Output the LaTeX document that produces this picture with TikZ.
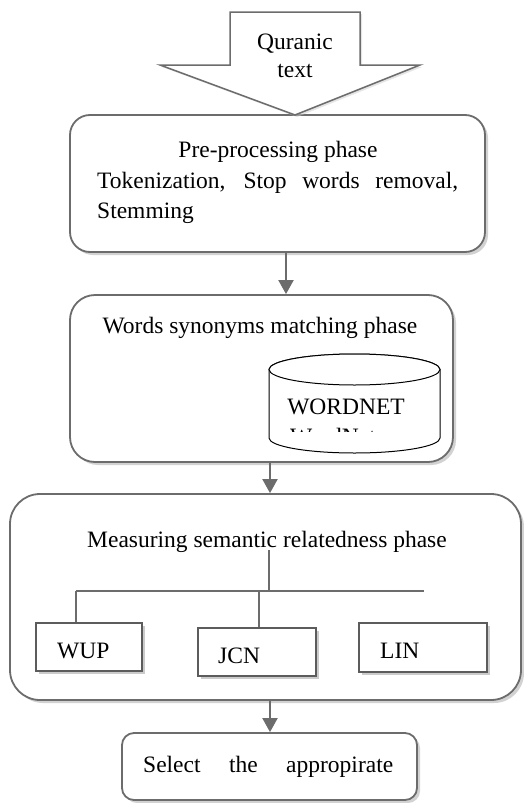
\documentclass[tikz,border=0pt]{standalone}
\usepackage{fontspec}
\setmainfont{Liberation Serif}
\usetikzlibrary{shadows,arrows.meta}
\definecolor{bgray}{RGB}{108,108,108}
\begin{document}
\begin{tikzpicture}[x=1pt,y=-1pt,
  txt/.style={font=\fontsize{23.5}{31}\selectfont, inner sep=0pt, text=black},
  phase/.style={draw=bgray, line width=1.8pt, fill=white, rounded corners=#1, inner sep=0pt,
    drop shadow={shadow xshift=3pt, shadow yshift=-3pt, fill=black!35, opacity=0.5}},
  methbox/.style={draw=bgray!85!black, line width=1.5pt, fill=white, inner sep=0pt,
    drop shadow={shadow xshift=3pt, shadow yshift=-3pt, fill=black!40, opacity=0.5}},
  conn/.style={draw=bgray, line width=2pt, -{Triangle[width=15pt,length=14pt]}},
  treeline/.style={draw=bgray, line width=1.8pt},
  bigarrow/.style={draw=bgray, line width=1.5pt, fill=white, line join=miter,
    drop shadow={shadow xshift=2pt, shadow yshift=-2pt, fill=black!20, opacity=0.5}},
  cyl/.style={draw=black, line width=1pt, fill=white}]
\useasboundingbox (0,0) rectangle (523,803);

% phase boxes
\node[phase=20pt, minimum width=415pt, minimum height=137pt] (pre) at (277.5,183.5) {};
\node[phase=25pt, minimum width=383pt, minimum height=167pt] (syn) at (261.5,378.5) {};
\node[phase=30pt, minimum width=511pt, minimum height=206pt] (meas) at (265.5,597) {};
\node[phase=12pt, minimum width=295pt, minimum height=67pt] (sel) at (269.5,766.5) {};

% input arrow
\draw[bigarrow] (230,12) -- (360,12) -- (360,65) -- (420,65) -- (295,115) -- (160,65) -- (230,65) -- cycle;
\node[txt, anchor=base] (q1) at (295,49) {Quranic};
\node[txt, anchor=base] (q2) at (295,77) {text};

% pre-processing text
\node[txt, anchor=base] (preT) at (278,157) {Pre-processing phase};
\node[txt, anchor=base west] (preL2) at (97,188) {\makebox[361pt][s]{Tokenization, Stop words removal,}};
\node[txt, anchor=base west] (preL3) at (97,218) {Stemming};

% synonyms box
\node[txt, anchor=base] (synT) at (260,333) {Words synonyms matching phase};
\filldraw[cyl] (269,369.5) -- (269,438) arc[start angle=180, end angle=360, x radius=85.5pt, y radius=15pt]
  -- (440,369.5) arc[start angle=0, end angle=180, x radius=85.5pt, y radius=15.5pt] -- cycle;
\draw[cyl] (354.5,369.5) ellipse [x radius=85.5pt, y radius=15.5pt];
\node[txt, anchor=base] (wn) at (346,414) {WORDNET};
\begin{scope}
  \clip (269,420) rectangle (440,431.5);
  \node[txt, anchor=base west] (wn2) at (290,444.5) {WordNet};
\end{scope}

% measuring box
\node[txt, anchor=base] (measT) at (267,547) {Measuring semantic relatedness phase};
\node[methbox, minimum width=106pt, minimum height=48pt] (wup) at (89,647) {};
\node[methbox, minimum width=118pt, minimum height=48pt] (jcn) at (257,652) {};
\node[methbox, minimum width=128pt, minimum height=49pt] (lin) at (423,647.5) {};
\node[txt, anchor=base west] (wupT) at (57,658) {WUP};
\node[txt, anchor=base west] (jcnT) at (218,663) {JCN};
\node[txt, anchor=base west] (linT) at (380,658) {LIN};

\coordinate (hubtop) at (269,550);
\coordinate (hub) at (269,591);
\coordinate (hl) at (76,591);
\coordinate (hr) at (424,591);
\coordinate (hj) at (259,591);
\draw[treeline] (hubtop) -- (hub);
\draw[treeline] (hl) -- (hr);
\draw[treeline] (hl) -- (hl |- wup.north);
\draw[treeline] (hj) -- (hj |- jcn.north);

% select box
\node[txt, anchor=base west] (selT) at (143,772) {\makebox[250pt][s]{Select the appropirate}};

% connectors
\coordinate (a1) at (286,0);
\coordinate (a2) at (270,0);
\draw[conn] (pre.south -| a1) -- (syn.north -| a1);
\draw[conn] (syn.south -| a2) -- (meas.north -| a2);
\draw[conn] (meas.south -| a2) -- (sel.north -| a2);
\end{tikzpicture}
\end{document}
